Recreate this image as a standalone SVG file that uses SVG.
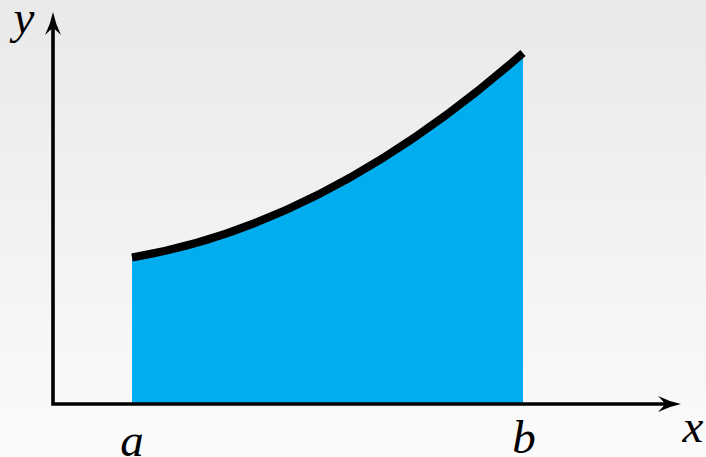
<svg xmlns="http://www.w3.org/2000/svg" width="706" height="457" viewBox="0 0 706 457">
  <defs>
    <linearGradient id="bg" x1="0" y1="0" x2="0" y2="1">
      <stop offset="0" stop-color="#e9e9e9"/>
      <stop offset="1" stop-color="#fbfbfb"/>
    </linearGradient>
    <marker id="arrow" viewBox="0 0 24 18" refX="8" refY="9" markerWidth="24" markerHeight="18" markerUnits="userSpaceOnUse" orient="auto-start-reverse">
      <path d="M24,9 Q12,6.5 1,1 Q6,6 8,9 Q6,12 1,17 Q12,11.5 24,9 Z" fill="#000"/>
    </marker>
  </defs>
  <style>
    .axis { fill: none; stroke: #000; stroke-width: 3.6; stroke-linejoin: miter; }
    .area { fill: #00aeef; stroke: none; }
    .curve { fill: none; stroke: #000; stroke-width: 8; stroke-linecap: butt; }
    .lbl { font-family: "Liberation Serif", "DejaVu Serif", serif; font-style: italic; font-size: 47px; fill: #000; text-anchor: middle; }
  </style>
  <rect x="0" y="0" width="706" height="457" fill="url(#bg)"/>
  <g id="area">
    <path class="area" d="M132,404 L132,257.5 Q327.5,224.4 523,53 L523,404 Z"/>
  </g>
  <g id="connectors">
    <path id="axes" class="axis" d="M53,28 L53,404 L665,404" marker-start="url(#arrow)" marker-end="url(#arrow)"/>
  </g>
  <g id="curve">
    <path class="curve" d="M132,257.5 Q327.5,224.4 523,53"/>
  </g>
  <g id="label-y"><text class="lbl" x="24" y="33">y</text></g>
  <g id="label-a"><text class="lbl" x="132" y="456">a</text></g>
  <g id="label-b"><text class="lbl" x="524" y="453">b</text></g>
  <g id="label-x"><text class="lbl" x="693" y="442">x</text></g>
</svg>
